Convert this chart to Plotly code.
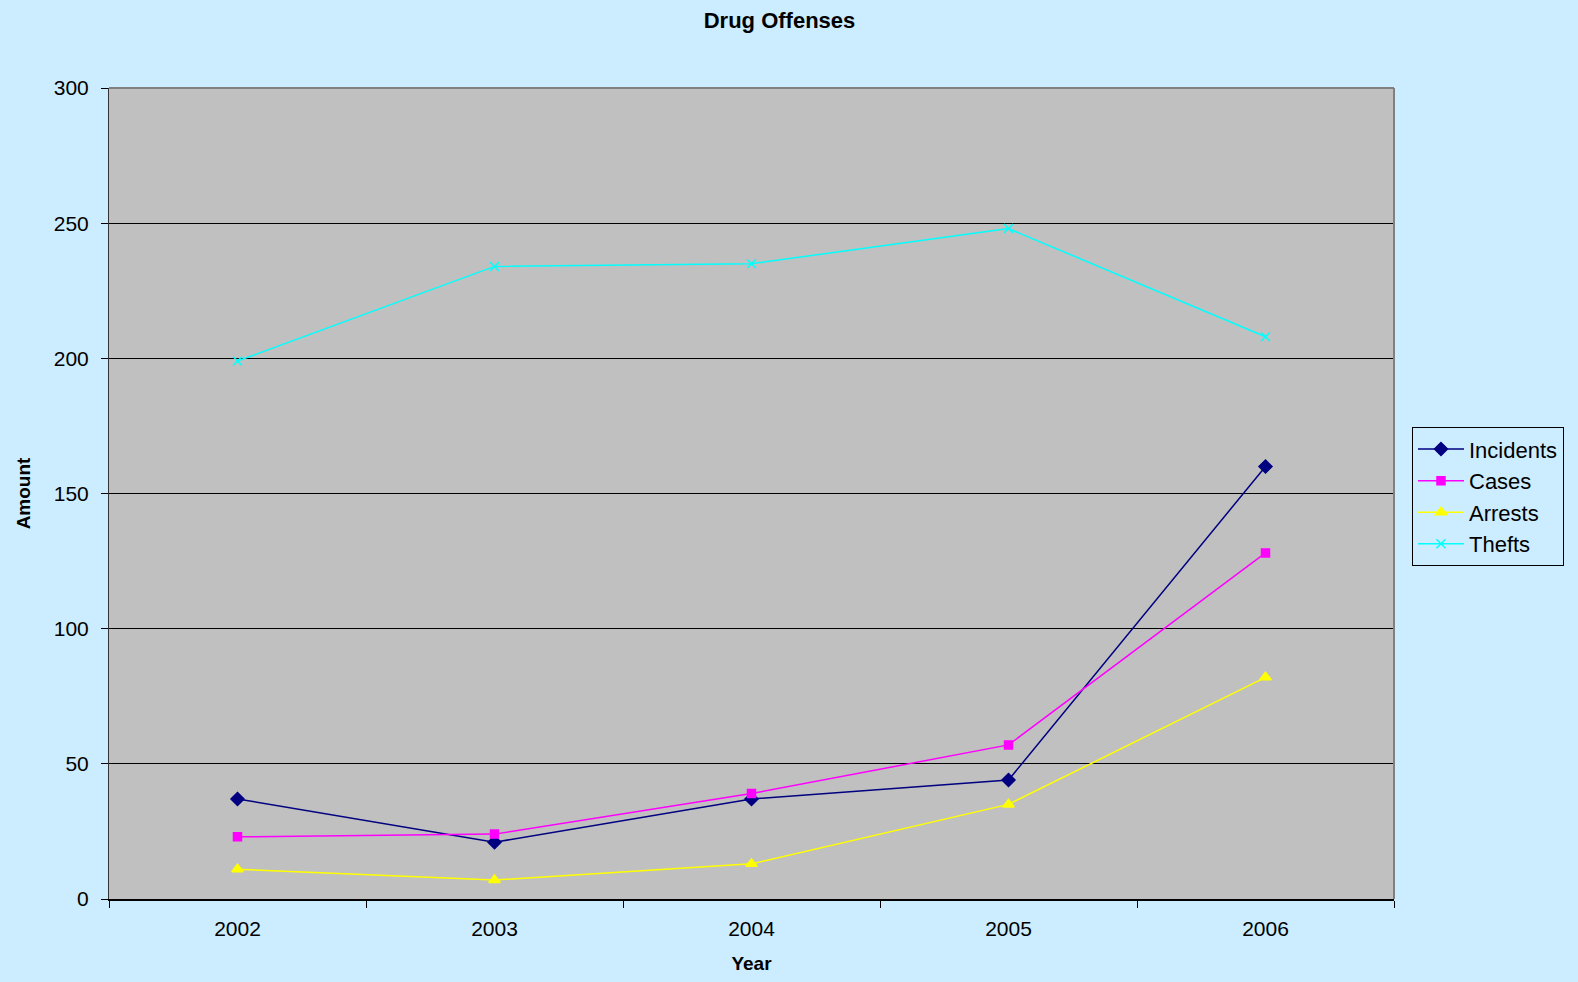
import plotly.graph_objects as go

years = ["2002", "2003", "2004", "2005", "2006"]
incidents = [37, 21, 37, 44, 160]
cases = [23, 24, 39, 57, 128]
arrests = [11, 7, 13, 35, 82]
thefts = [199, 234, 235, 248, 208]

series = [
    ("Incidents", incidents, "#000080", "diamond", 10),
    ("Cases", cases, "#FF00FF", "square", 8),
    ("Arrests", arrests, "#FFFF00", "triangle-up", 10),
    ("Thefts", thefts, "#00FFFF", "x-thin", 9),
]

fig = go.Figure()
for name, vals, color, sym, size in series:
    fig.add_trace(go.Scatter(
        x=years, y=vals, name=name, mode="lines+markers",
        line=dict(color=color, width=1.5),
        marker=dict(symbol=sym, size=size, color=color,
                    line=dict(color=color, width=1.5)),
    ))

# plot-area border (top and right, grey)
fig.add_shape(type="line", xref="paper", yref="paper", x0=0, x1=1, y0=1, y1=1,
              line=dict(color="#808080", width=2), layer="above")
fig.add_shape(type="line", xref="paper", yref="paper", x0=1, x1=1, y0=0, y1=1,
              line=dict(color="#808080", width=2), layer="above")

font = "Liberation Sans, Arial, sans-serif"
fig.update_layout(
    width=1578, height=982,
    paper_bgcolor="#CCECFF", plot_bgcolor="#C0C0C0",
    margin=dict(l=109, r=184, t=88, b=83),
    font=dict(family=font, size=20, color="#000000"),
    title=dict(text="<b>Drug Offenses</b>", x=0.494, xanchor="center",
               yref="container", y=1 - 20 / 982, yanchor="middle",
               font=dict(size=22)),
    showlegend=True,
    legend=dict(x=1.014, xanchor="left", y=0.496, yanchor="middle",
                bgcolor="#CCECFF", bordercolor="#000000", borderwidth=1,
                font=dict(size=22), tracegroupgap=0, itemwidth=46),
    xaxis=dict(
        type="category", range=[-0.5, 4.5], tickson="boundaries",
        ticks="outside", ticklen=7, tickcolor="#000000",
        ticklabelstandoff=10,
        showgrid=False, showline=True, linecolor="#000000", linewidth=1.5,
        title=dict(text="<b>Year</b>", font=dict(size=19), standoff=18),
        tickfont=dict(size=21),
    ),
    yaxis=dict(
        range=[0, 300], dtick=50, ticks="outside", ticklen=7,
        tickcolor="#000000", showgrid=True, gridcolor="#000000",
        gridwidth=1, showline=True, linecolor="#333333", linewidth=1,
        zeroline=False, ticklabelstandoff=8,
        title=dict(text="<b>Amount</b>", font=dict(size=19), standoff=18),
        tickfont=dict(size=21),
    ),
)

fig.write_html(
    "out.html",
    config={"displayModeBar": False},
    post_script=(
        "document.body.style.margin='0';"
        "document.body.style.overflow='hidden';"
        "document.body.style.background='#CCECFF';"
    ),
)
